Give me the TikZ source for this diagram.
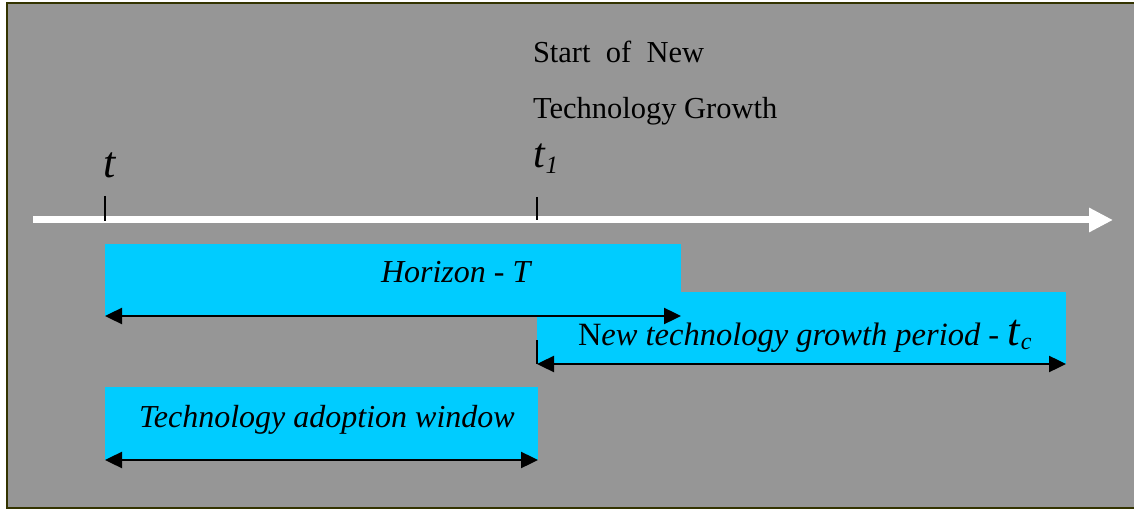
\documentclass[tikz,border=0pt]{standalone}
\usepackage{fontspec}
\setmainfont{Liberation Serif}
\usetikzlibrary{arrows.meta}
\definecolor{bggray}{RGB}{150,150,150}
\definecolor{boxcyan}{RGB}{0,204,255}
\definecolor{frameolive}{RGB}{51,51,0}
\newcommand{\fs}[1]{\fontsize{#1}{#1}\selectfont}
\begin{document}
\begin{tikzpicture}[x=1pt,y=-1pt,
  lbl/.style={anchor=base west, inner sep=0pt, outer sep=0pt, text=black},
  span/.style={line width=2.4pt, {Triangle[length=17pt,width=16pt]}-{Triangle[length=17pt,width=16pt]}},
  tickmark/.style={line width=1.3pt, black},
  cbox/.style={fill=boxcyan}]
\useasboundingbox (0,0) rectangle (1134,510);
\fill[white] (0,0) rectangle (1134,510);
\fill[bggray] (7,3) rectangle (1134,508);
\draw[frameolive, line width=2pt] (1134,3) -- (7,3) -- (7,508) -- (1134,508);
% boxes
\fill[cbox] (537,292) rectangle (1066,364);
\fill[cbox] (105,244) rectangle (681,316);
\fill[cbox] (105,387) rectangle (538,460);
% timeline
\coordinate (axS) at (33,220);
\coordinate (axE) at (1113,220);
\draw[white, line width=7pt, -{Triangle[length=24pt,width=23pt]}] (axS) -- (axE);
\coordinate (tTop) at (105,196);
\coordinate (tBot) at (105,221);
\coordinate (t1Top) at (537,197);
\coordinate (t1Bot) at (537,220);
\draw[tickmark] (tTop) -- (tBot);
\draw[tickmark] (t1Top) -- (t1Bot);
% spans
\coordinate (hL) at (105,316);
\coordinate (hR) at (681,316);
\coordinate (nL) at (537,364);
\coordinate (nR) at (1066,364);
\coordinate (nTop) at (537,340);
\coordinate (aL) at (105,460);
\coordinate (aR) at (538,460);
\draw[span] (hL) -- (hR);
\draw[span] (nL) -- (nR);
\draw[line width=1.2pt] (nTop) -- (nL);
\draw[span] (aL) -- (aR);
% labels
\node[lbl] (start1) at (533,63) {\fs{30.5}Start\ \ of\ \ New};
\node[lbl] (start2) at (533,119) {\fs{30.5}Technology Growth};
\node[lbl] (tlab) at (103,178) {\fs{44}\textit{t}};
\node[lbl] (t1lab) at (533,168) {\fs{42}\textit{t}\raisebox{-6pt}{\fs{25}\textit{1}}};
\node[lbl] (hlab) at (381,283) {\fs{32}\textit{Horizon - T}};
\node[lbl] (nlab) at (578,345) {\fs{32.5}N\textit{ew technology growth period - }{\fs{45}\textit{t}}\raisebox{-4pt}{\fs{24}\textit{c}}};
\node[lbl] (alab) at (139,427) {\fs{32}\textit{Technology adoption window}};
\end{tikzpicture}
\end{document}
